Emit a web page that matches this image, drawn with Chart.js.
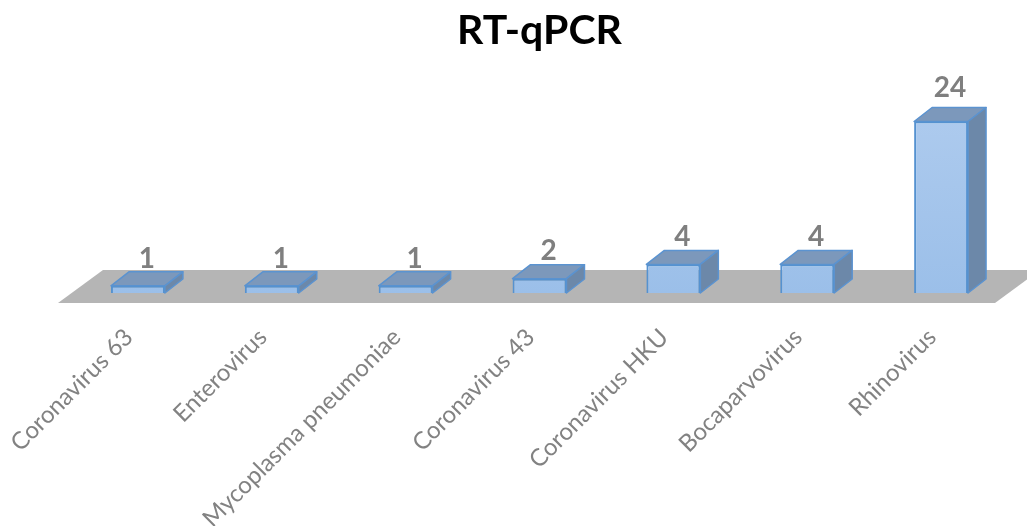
<!DOCTYPE html>
<html>
<head>
<meta charset="utf-8">
<title>RT-qPCR</title>
<script src="https://cdn.jsdelivr.net/npm/chart.js@4/dist/chart.umd.min.js"></script>
<style>
  html, body { margin: 0; padding: 0; background: #fff; overflow: hidden; }
  #wrap { width: 1027px; height: 526px; }
</style>
</head>
<body>
<div id="wrap"><canvas id="chart" width="1027" height="526"></canvas></div>
<script>
const categories = [
  "Coronavirus 63",
  "Enterovirus",
  "Mycoplasma pneumoniae",
  "Coronavirus 43",
  "Coronavirus HKU",
  "Bocaparvovirus",
  "Rhinovirus",
];
const counts = [1, 1, 1, 2, 4, 4, 24];

// how far the boxes are pushed back, in px
const depthX = 18;
const depthY = 14;

// grey floor and the top/side faces of the boxes, drawn behind the bars
const boxes3d = {
  id: "boxes3d",
  beforeDatasetsDraw(chart) {
    const { ctx, chartArea } = chart;
    const base = chart.scales.y.getPixelForValue(0);

    ctx.save();
    ctx.fillStyle = "#b5b5b5";
    ctx.beginPath();
    ctx.moveTo(chartArea.left - 13, base + 10);
    ctx.lineTo(chartArea.right - 13, base + 10);
    ctx.lineTo(chartArea.right + 32, base - 23);
    ctx.lineTo(chartArea.left + 32, base - 23);
    ctx.closePath();
    ctx.fill();

    chart.getDatasetMeta(0).data.forEach((bar) => {
      const half = bar.width / 2;
      const left = bar.x - half;
      const right = bar.x + half;
      const top = bar.y;

      ctx.lineWidth = 1.5;
      ctx.strokeStyle = "#5b93d0";
      ctx.lineJoin = "round";

      // top face
      ctx.fillStyle = "#7c98bb";
      ctx.beginPath();
      ctx.moveTo(left, top);
      ctx.lineTo(left + depthX, top - depthY);
      ctx.lineTo(right + depthX, top - depthY);
      ctx.lineTo(right, top);
      ctx.closePath();
      ctx.fill();
      ctx.stroke();

      // side face
      ctx.fillStyle = "#6c88a9";
      ctx.beginPath();
      ctx.moveTo(right, top);
      ctx.lineTo(right + depthX, top - depthY);
      ctx.lineTo(right + depthX, base - depthY);
      ctx.lineTo(right, base);
      ctx.closePath();
      ctx.fill();
      ctx.stroke();
    });
    ctx.restore();
  },
  afterDatasetsDraw(chart) {
    const { ctx } = chart;
    ctx.save();
    ctx.font = "bold 28px Lato";
    ctx.fillStyle = "#7f7f7f";
    ctx.textAlign = "center";
    ctx.textBaseline = "alphabetic";
    chart.getDatasetMeta(0).data.forEach((bar, i) => {
      // the taller the box the more air above its number
      const gap = 4 + (counts[i] - 1) * 0.3;
      ctx.fillText(counts[i], bar.x + depthX / 2, bar.y - depthY - gap);
    });
    ctx.restore();
  },
};

new Chart(document.getElementById("chart"), {
  type: "bar",
  data: {
    labels: categories,
    datasets: [
      {
        data: counts,
        barPercentage: 0.403,
        categoryPercentage: 1,
        borderWidth: 2,
        borderColor: "#5592d0",
        backgroundColor: (context) => {
          const area = context.chart.chartArea;
          if (!area) return "#a9c9ee";
          const g = context.chart.ctx.createLinearGradient(0, area.top, 0, area.bottom);
          g.addColorStop(0, "#aecbee");
          g.addColorStop(1, "#9bbfe9");
          return g;
        },
      },
    ],
  },
  options: {
    responsive: false,
    animation: false,
    layout: { padding: { left: 71, right: 19, top: 0, bottom: 0 } },
    plugins: {
      legend: { display: false },
      tooltip: { enabled: false },
      title: {
        display: true,
        text: "RT-qPCR",
        color: "#000000",
        font: { family: "Lato", size: 41, weight: "bold" },
        padding: { top: 6, bottom: 52 },
      },
    },
    scales: {
      x: {
        grid: { display: false, drawTicks: false },
        border: { display: false },
        afterFit(scale) {
          scale.height = 233;
          scale.paddingLeft = 0;
          scale.paddingRight = 0;
        },
        ticks: {
          autoSkip: false,
          minRotation: 45,
          maxRotation: 45,
          padding: 30,
          labelOffset: -9,
          color: "#828282",
          font: { family: "Lato", size: 24 },
        },
      },
      y: { display: false, min: 0, max: 26 },
    },
  },
  plugins: [boxes3d],
});
</script>
</body>
</html>
